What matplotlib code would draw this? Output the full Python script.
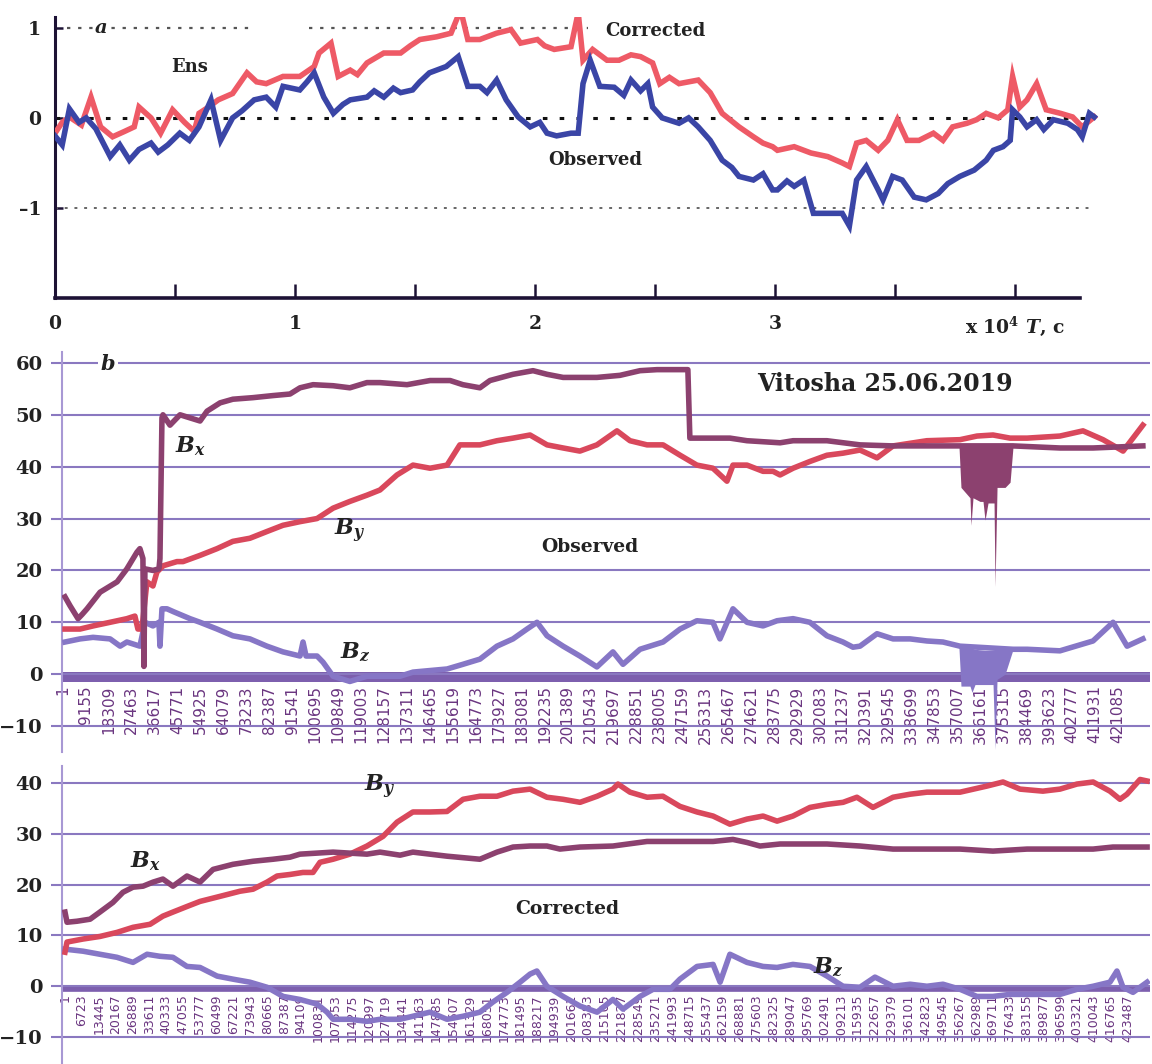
import numpy as np
import matplotlib.pyplot as plt

plt.rcParams['mathtext.fontset'] = 'custom'
plt.rcParams['mathtext.rm'] = 'DejaVu Serif:bold'
plt.rcParams['mathtext.it'] = 'DejaVu Serif:italic:bold'
plt.rcParams['mathtext.bf'] = 'DejaVu Serif:bold'

# ---------------- panel a : ensemble, T in units of 1e4 s ----------------
obs_t = [0.00, 0.03, 0.06, 0.10, 0.13, 0.17, 0.23, 0.27, 0.31, 0.35, 0.40, 0.43, 0.47, 0.52,
         0.56, 0.60, 0.65, 0.69, 0.74, 0.78, 0.83, 0.88, 0.92, 0.95, 1.02, 1.05, 1.08, 1.12,
         1.16, 1.20, 1.23, 1.30, 1.33, 1.37, 1.41, 1.44, 1.49, 1.52, 1.56, 1.63, 1.68, 1.72,
         1.77, 1.80, 1.84, 1.88, 1.93, 1.98, 2.02, 2.05, 2.09, 2.15, 2.18, 2.20, 2.23, 2.27,
         2.33, 2.37, 2.40, 2.44, 2.47, 2.49, 2.53, 2.60, 2.64, 2.68, 2.73, 2.78, 2.82, 2.85,
         2.91, 2.95, 2.99, 3.01, 3.05, 3.08, 3.12, 3.16, 3.22, 3.28, 3.31, 3.34, 3.38, 3.43,
         3.45, 3.49, 3.53, 3.58, 3.63, 3.68, 3.72, 3.77, 3.83, 3.88, 3.91, 3.95, 3.98, 3.99,
         4.02, 4.05, 4.09, 4.12, 4.16, 4.22, 4.26, 4.28, 4.31, 4.33]
obs_v = [-0.20, -0.30, 0.10, -0.05, 0.00, -0.12, -0.43, -0.30, -0.47, -0.35, -0.28, -0.38, -0.30, -0.17,
         -0.25, -0.10, 0.20, -0.25, 0.00, 0.08, 0.20, 0.23, 0.12, 0.35, 0.31, 0.40, 0.50, 0.23,
         0.05, 0.15, 0.20, 0.23, 0.30, 0.23, 0.33, 0.28, 0.31, 0.40, 0.50, 0.57, 0.68, 0.35,
         0.35, 0.28, 0.42, 0.20, 0.01, -0.10, -0.05, -0.17, -0.20, -0.17, -0.17, 0.38, 0.64, 0.35,
         0.34, 0.25, 0.42, 0.30, 0.38, 0.12, 0.00, -0.06, 0.00, -0.10, -0.25, -0.47, -0.55, -0.65,
         -0.69, -0.62, -0.80, -0.80, -0.70, -0.76, -0.69, -1.06, -1.06, -1.06, -1.20, -0.69, -0.54, -0.80,
         -0.91, -0.65, -0.69, -0.88, -0.91, -0.84, -0.73, -0.65, -0.58, -0.47, -0.36, -0.32, -0.25, 0.09,
         0.01, -0.10, -0.02, -0.13, -0.02, -0.06, -0.13, -0.21, 0.05, 0.01]

cor_t = [0.00, 0.03, 0.06, 0.11, 0.15, 0.19, 0.24, 0.29, 0.33, 0.35, 0.40, 0.44, 0.49, 0.54,
         0.58, 0.60, 0.64, 0.68, 0.74, 0.80, 0.84, 0.88, 0.95, 1.02, 1.08, 1.10, 1.15, 1.18,
         1.23, 1.26, 1.30, 1.37, 1.44, 1.48, 1.52, 1.59, 1.65, 1.69, 1.72, 1.77, 1.84, 1.90,
         1.94, 2.01, 2.04, 2.08, 2.15, 2.18, 2.20, 2.24, 2.30, 2.35, 2.40, 2.44, 2.49, 2.52,
         2.56, 2.60, 2.68, 2.73, 2.78, 2.85, 2.91, 2.95, 2.99, 3.01, 3.08, 3.15, 3.22, 3.28,
         3.31, 3.34, 3.38, 3.43, 3.47, 3.51, 3.55, 3.60, 3.66, 3.70, 3.74, 3.80, 3.84, 3.88,
         3.93, 3.97, 3.99, 4.02, 4.05, 4.09, 4.13, 4.19, 4.24, 4.28, 4.33]
cor_v = [-0.17, -0.05, 0.01, -0.08, 0.23, -0.10, -0.21, -0.15, -0.10, 0.12, 0.00, -0.17, 0.09, -0.05,
         -0.15, 0.05, 0.12, 0.20, 0.27, 0.50, 0.40, 0.38, 0.46, 0.46, 0.57, 0.72, 0.83, 0.46,
         0.53, 0.48, 0.61, 0.72, 0.72, 0.80, 0.87, 0.90, 0.94, 1.20, 0.87, 0.87, 0.94, 0.98,
         0.83, 0.87, 0.80, 0.76, 0.79, 1.17, 0.64, 0.76, 0.64, 0.64, 0.70, 0.68, 0.61, 0.38,
         0.45, 0.38, 0.42, 0.28, 0.05, -0.10, -0.21, -0.28, -0.32, -0.36, -0.32, -0.39, -0.43, -0.50,
         -0.54, -0.28, -0.25, -0.36, -0.25, -0.02, -0.25, -0.25, -0.17, -0.25, -0.10, -0.06, -0.02, 0.05,
         0.00, 0.09, 0.46, 0.12, 0.20, 0.38, 0.09, 0.05, 0.01, -0.10, 0.01]

a_xlabels = ['0', '1', '2', '3', 'x 10$^4$ $T$, c']

# ---------------- panel b : observed (x in thousands of samples) ----------------
bx_obs_t = [0.8, 2.8, 6.0, 7.6, 9.6, 14.8, 21.6, 25.5, 29.5, 30.7, 31.9, 32.3, 32.7, 35.9,
            38.3, 38.7, 39.5, 39.9, 42.7, 46.7, 50.7, 54.7, 57.5, 62.7, 67.8, 75.8, 83.8, 90.6,
            94.6, 99.8, 107.8, 114.5, 121.3, 126.5, 137.3, 146.5, 154.5, 159.6, 166.4, 170.4, 179.6, 187.6,
            193.2, 199.6, 213.1, 222.3, 230.3, 237.1, 246.3, 249.4, 250.2, 254.2, 266.2, 273.0, 286.2, 291.4,
            304.9, 318.1, 331.3, 344.8, 357.6, 379.2, 397.9, 411.1, 431.0]
bx_obs_v = [14.9, 13.2, 10.7, 11.5, 12.6, 15.8, 17.8, 20.3, 23.5, 24.2, 22.3, 1.5, 20.3, 20.0,
            20.3, 22.3, 49.4, 50.0, 48.0, 50.0, 49.4, 48.8, 50.7, 52.3, 53.0, 53.3, 53.7, 54.0,
            55.2, 55.8, 55.6, 55.2, 56.2, 56.2, 55.8, 56.6, 56.6, 55.8, 55.2, 56.6, 57.8, 58.5,
            57.8, 57.2, 57.2, 57.6, 58.5, 58.7, 58.7, 58.7, 45.5, 45.5, 45.5, 45.0, 44.6, 45.0,
            45.0, 44.2, 44.0, 44.0, 44.0, 44.0, 43.6, 43.6, 44.0]

# dense burst of Bx near sample 360000 (lower envelope)
bx_burst_t = [357.6, 358.4, 362.0, 362.4, 363.2, 366.0, 367.2, 368.0, 369.2, 371.6, 372.0, 372.8,
              376.0, 378.0, 379.2]
bx_burst_lo = [44.0, 36.0, 34.0, 28.7, 34.0, 33.3, 33.3, 29.7, 33.0, 33.0, 16.9, 36.0,
               36.0, 37.0, 44.0]
bx_burst_hi = [44.5, 44.5, 44.5, 44.5, 44.5, 44.5, 44.5, 44.5, 44.5, 44.5, 44.5, 44.5,
               44.5, 44.5, 44.5]

by_obs_t = [0.8, 6.8, 12.0, 18.8, 25.5, 28.7, 29.9, 31.5, 33.5, 35.9, 37.5, 40.0, 45.5, 47.9,
            54.7, 61.5, 67.8, 74.6, 81.4, 87.8, 94.6, 101.4, 107.8, 114.5, 121.3, 126.5, 133.3, 139.7,
            146.5, 153.3, 158.4, 166.4, 173.2, 179.6, 186.4, 193.2, 199.6, 206.3, 213.1, 221.1, 226.3, 233.1,
            239.5, 246.3, 253.0, 259.4, 265.0, 267.4, 273.0, 279.4, 283.4, 286.2, 291.4, 298.1, 304.9, 311.3,
            318.1, 324.9, 331.3, 344.8, 358.0, 364.8, 371.2, 378.0, 384.8, 397.9, 407.1, 415.1, 423.1, 431.0]
by_obs_v = [8.7, 8.7, 9.3, 10.0, 10.7, 11.2, 8.7, 8.7, 17.8, 17.0, 19.7, 20.9, 21.7, 21.7,
            22.9, 24.2, 25.6, 26.2, 27.5, 28.7, 29.4, 30.0, 32.0, 33.3, 34.5, 35.5, 38.4, 40.3,
            39.7, 40.3, 44.2, 44.2, 45.0, 45.5, 46.1, 44.2, 43.6, 43.0, 44.2, 46.9, 45.0, 44.2,
            44.2, 42.2, 40.3, 39.7, 37.2, 40.3, 40.3, 39.1, 39.1, 38.4, 39.7, 41.0, 42.2, 42.6,
            43.2, 41.7, 44.0, 45.0, 45.2, 45.9, 46.1, 45.5, 45.5, 45.9, 46.9, 45.2, 43.0, 48.0]

bz_obs_t = [0.8, 6.8, 12.0, 18.8, 22.8, 25.5, 30.7, 32.7, 35.9, 38.3, 38.7, 39.5, 41.5, 44.3,
            50.7, 54.7, 61.5, 67.8, 74.6, 81.4, 87.8, 94.6, 95.8, 97.0, 101.4, 103.8, 107.8, 114.5,
            121.3, 134.5, 139.7, 153.3, 159.6, 166.4, 173.2, 179.6, 185.2, 189.2, 193.2, 199.6, 206.3, 213.1,
            219.5, 223.5, 230.3, 239.5, 246.3, 253.0, 259.4, 262.2, 267.4, 273.0, 279.4, 285.0, 291.4, 298.1,
            304.9, 311.3, 315.3, 318.1, 324.9, 331.3, 338.1, 344.8, 351.2, 358.0, 379.2, 384.8, 397.9, 411.1,
            419.1, 424.7, 431.0]
bz_obs_v = [6.2, 6.8, 7.1, 6.8, 5.4, 6.2, 5.4, 10.0, 9.3, 10.0, 5.4, 12.6, 12.6, 12.0,
            10.7, 10.0, 8.7, 7.4, 6.8, 5.4, 4.3, 3.5, 6.2, 3.5, 3.5, 2.3, -0.4, -1.4,
            -0.4, -0.4, 0.4, 1.0, 1.9, 2.9, 5.4, 6.8, 8.7, 10.0, 7.4, 5.4, 3.5, 1.4,
            4.3, 1.9, 4.8, 6.2, 8.7, 10.3, 10.0, 6.8, 12.6, 10.0, 9.3, 10.3, 10.7, 10.0,
            7.4, 6.2, 5.2, 5.4, 7.8, 6.8, 6.8, 6.4, 6.2, 5.4, 4.8, 4.8, 4.5, 6.4,
            10.0, 5.4, 6.8]

bz_burst_t = [357.6, 358.4, 362.0, 362.8, 364.0, 368.0, 371.2, 372.0, 372.8, 376.0, 379.2]
bz_burst_lo = [5.0, -2.3, -2.3, -3.5, -2.0, -2.0, -2.0, -14.5, -1.0, 0.0, 4.8]
bz_burst_hi = [5.4, 5.2, 5.0, 5.0, 4.8, 4.6, 4.6, 4.6, 4.6, 4.8, 4.8]

# ---------------- panel c : corrected ----------------
bx_cor_t = [0.0, 0.8, 4.8, 10.0, 13.9, 19.1, 23.1, 27.1, 31.1, 35.1, 39.0, 43.0, 48.6, 53.8,
            59.0, 66.9, 74.9, 82.9, 89.6, 93.6, 106.8, 120.3, 125.5, 133.5, 138.6, 152.2, 165.3, 172.1,
            178.5, 185.3, 192.0, 197.2, 205.2, 218.3, 231.9, 245.0, 258.2, 266.1, 271.7, 276.9, 284.9, 290.0,
            303.6, 316.7, 329.9, 343.4, 356.6, 369.7, 383.3, 396.4, 409.6, 417.5, 431.1]
bx_cor_v = [14.6, 12.6, 12.8, 13.2, 14.6, 16.5, 18.5, 19.5, 19.7, 20.5, 21.1, 19.7, 21.7, 20.5,
            23.0, 24.0, 24.6, 25.0, 25.4, 26.0, 26.4, 26.0, 26.4, 25.8, 26.4, 25.6, 25.0, 26.4,
            27.4, 27.6, 27.6, 27.0, 27.4, 27.6, 28.5, 28.5, 28.5, 28.9, 28.3, 27.6, 28.0, 28.0,
            28.0, 27.6, 27.0, 27.0, 27.0, 26.6, 27.0, 27.0, 27.0, 27.4, 27.4]

by_cor_t = [0.0, 0.8, 7.2, 13.9, 20.7, 27.1, 33.9, 39.0, 43.0, 48.6, 53.8, 61.8, 69.7, 74.9,
            80.5, 84.5, 89.6, 94.8, 98.8, 101.6, 106.8, 113.5, 120.3, 126.7, 132.3, 138.6, 145.4, 152.2,
            158.6, 165.3, 172.1, 178.5, 185.3, 192.0, 198.4, 205.2, 212.0, 218.3, 220.3, 225.1, 231.9, 238.2,
            245.0, 251.8, 258.2, 264.9, 271.7, 278.1, 283.7, 290.0, 296.8, 303.6, 310.0, 315.5, 321.9, 329.9,
            336.7, 343.4, 356.6, 367.3, 373.7, 380.5, 389.6, 396.4, 403.2, 409.6, 416.3, 420.3, 423.1, 428.3,
            431.1]
by_cor_v = [6.7, 8.7, 9.3, 9.8, 10.6, 11.6, 12.2, 13.8, 14.6, 15.7, 16.7, 17.7, 18.7, 19.1,
            20.5, 21.7, 22.0, 22.4, 22.4, 24.4, 25.0, 26.0, 27.6, 29.5, 32.3, 34.3, 34.3, 34.4,
            36.8, 37.4, 37.4, 38.4, 38.8, 37.2, 36.8, 36.2, 37.4, 38.8, 39.8, 38.2, 37.2, 37.4,
            35.4, 34.3, 33.5, 31.9, 32.9, 33.5, 32.5, 33.5, 35.2, 35.8, 36.2, 37.2, 35.2, 37.2,
            37.8, 38.2, 38.2, 39.4, 40.2, 38.8, 38.4, 38.8, 39.8, 40.2, 38.4, 36.8, 37.8, 40.7,
            40.4]

bz_cor_t = [0.0, 7.2, 13.9, 20.7, 27.1, 32.7, 37.8, 43.0, 48.6, 53.8, 60.6, 66.9, 73.7, 80.5,
            86.9, 93.6, 100.4, 104.4, 106.8, 113.5, 120.3, 125.5, 133.5, 138.6, 145.4, 152.2, 158.6, 165.3,
            170.5, 176.1, 181.3, 185.3, 188.0, 192.0, 198.4, 205.2, 212.0, 218.3, 222.3, 229.1, 234.3, 241.0,
            245.0, 251.8, 258.2, 261.0, 264.9, 271.7, 278.1, 283.7, 290.0, 296.8, 303.6, 310.0, 316.7, 322.7,
            329.9, 336.7, 343.4, 349.8, 356.6, 363.3, 369.7, 376.5, 389.6, 396.4, 403.2, 409.6, 416.3, 419.1,
            421.5, 425.5, 431.1]
bz_cor_v = [7.3, 6.9, 6.3, 5.7, 4.7, 6.3, 5.9, 5.7, 3.9, 3.7, 2.0, 1.4, 0.8, -0.2,
            -2.0, -2.6, -3.5, -5.1, -6.5, -6.5, -6.9, -6.5, -6.5, -5.9, -5.1, -6.5, -5.9, -5.1,
            -3.1, -1.2, 0.8, 2.4, 3.0, 0.0, -2.0, -3.9, -5.1, -2.6, -4.5, -2.0, -0.6, -0.6,
            1.4, 3.9, 4.3, 0.8, 6.3, 4.7, 3.9, 3.7, 4.3, 3.9, 2.0, 0.0, -0.2, 1.8,
            0.0, 0.4, 0.0, 0.4, -0.6, -2.0, -2.0, -1.6, -1.6, -1.6, -0.6, 0.0, 0.8, 3.0,
            -0.2, -1.2, 0.8]

b_ticklabels = np.arange(1, 421086, 9154)
c_ticklabels = np.arange(1, 423488, 6722)
b_yticks = [-10, 0, 10, 20, 30, 40, 50, 60]
c_yticks = [-10, 0, 10, 20, 30, 40]

# colours
RED_A, BLUE_A = '#ee5a66', '#3a45a6'
C_BX, C_BY, C_BZ = '#8c416f', '#d9485c', '#8676c6'
GRID = '#8a78c0'
BAND = '#7d5fae'
TICKC = '#6a3580'
SERIF = 'DejaVu Serif'


def k(v):
    return np.asarray(v) * 1000.0


fig = plt.figure(figsize=(11.52, 10.64), dpi=100)

# ============ panel a ============
ax = fig.add_axes([55 / 1152, 766 / 1064, 1044 / 1152, 281 / 1064])
ax.set_xlim(0, 4.35)
ax.set_ylim(-2, 1.12)
ax.hlines(1, 0.05, 0.82, colors='#555555', linestyles=(0, (1.5, 3.5)), lw=1.6)
ax.hlines(1, 1.06, 2.22, colors='#555555', linestyles=(0, (1.5, 3.5)), lw=1.6)
ax.hlines(0, 0, 4.33, colors='#111111', linestyles=(0, (1.5, 4)), lw=2.2)
ax.hlines(-1, 0, 4.33, colors='#666666', linestyles=(0, (1.5, 3.5)), lw=1.4)
ax.plot(cor_t, cor_v, color=RED_A, lw=4.0, zorder=3, solid_joinstyle='miter')
ax.plot(obs_t, obs_v, color=BLUE_A, lw=4.0, zorder=4, solid_joinstyle='miter')
for s in ['top', 'right']:
    ax.spines[s].set_visible(False)
ax.spines['left'].set_linewidth(2.2)
ax.spines['bottom'].set_linewidth(2.6)
ax.spines['left'].set_color('#1d1235')
ax.spines['bottom'].set_color('#1d1235')
ax.spines['bottom'].set_bounds(0, 4.27)
ax.set_xticks([0, 1, 2, 3, 4])
ax.set_xticklabels(a_xlabels)
ax.set_xticks([0.5, 1.5, 2.5, 3.5], minor=True)
ax.tick_params(axis='x', which='both', direction='in', length=10, width=1.8,
               color='#1d1235', pad=12)
ax.set_yticks([-1, 0, 1])
ax.set_yticklabels(['\u20131', '0', '1'])
ax.tick_params(axis='y', direction='in', length=6, width=1.8, color='#1d1235', pad=10)
for lab in ax.get_xticklabels() + ax.get_yticklabels():
    lab.set_fontfamily(SERIF)
    lab.set_fontweight('bold')
    lab.set_fontsize(13.5)
    lab.set_color('#222222')
ax.text(0.19, 1.0, 'a', fontsize=14, fontfamily=SERIF, style='italic', fontweight='bold',
        ha='center', va='center', color='#222222',
        bbox=dict(facecolor='white', edgecolor='none', pad=1))
ax.text(0.56, 0.56, 'Ens', fontsize=13, fontfamily=SERIF, fontweight='bold',
        ha='center', va='center', color='#222222')
ax.text(2.5, 0.96, 'Corrected', fontsize=13, fontfamily=SERIF, fontweight='bold',
        ha='center', va='center', color='#222222')
ax.text(2.25, -0.47, 'Observed', fontsize=13, fontfamily=SERIF, fontweight='bold',
        ha='center', va='center', color='#222222')


def style_b(ax, yticks, xlabels, label_y, band_y, band_lw, lab_size):
    ax.set_yticks(yticks)
    ax.set_yticklabels([('\u2212' + str(-v)) if v < 0 else str(v) for v in yticks])
    ax.grid(axis='y', color=GRID, lw=1.5, zorder=0)
    ax.axhline(band_y, color=BAND, lw=band_lw, zorder=1, solid_capstyle='butt')
    for s in ['top', 'right']:
        ax.spines[s].set_visible(False)
    ax.spines['left'].set_color('#a898d4')
    ax.spines['left'].set_linewidth(1.5)
    ax.spines['bottom'].set_position(('data', label_y))
    ax.spines['bottom'].set_visible(False)
    ax.set_xticks(xlabels)
    ax.set_xticklabels([str(v) for v in xlabels], rotation=90, fontsize=lab_size,
                       color=TICKC, va='top')
    ax.tick_params(axis='x', length=0, pad=1)
    ax.tick_params(axis='y', length=8, width=1.5, color=GRID, pad=6)
    for lab in ax.get_yticklabels():
        lab.set_fontfamily(SERIF)
        lab.set_fontweight('bold')
        lab.set_fontsize(14)
        lab.set_color('#222222')


LW = 4.0

# ============ panel b ============
ax = fig.add_axes([62 / 1152, 312 / 1064, 1088 / 1152, 400 / 1064])
ax.set_xlim(-398, 433847)
ax.set_ylim(-15.0, 62.1)
style_b(ax, b_yticks, b_ticklabels, -1.9, -0.55, 7.2, 11)
ax.fill_between(k(bz_burst_t), bz_burst_lo, bz_burst_hi, color=C_BZ, lw=0, zorder=2)
ax.plot(k(bz_obs_t), bz_obs_v, color=C_BZ, lw=LW, zorder=3)
ax.plot(k(by_obs_t), by_obs_v, color=C_BY, lw=LW, zorder=3)
ax.fill_between(k(bx_burst_t), bx_burst_lo, bx_burst_hi, color=C_BX, lw=0, zorder=4)
ax.plot(k(bx_obs_t), bx_obs_v, color=C_BX, lw=LW, zorder=4)
ax.text(17960, 59.8, 'b', fontsize=15, fontfamily=SERIF, style='italic', fontweight='bold',
        ha='center', va='center', color='#222222',
        bbox=dict(facecolor='white', edgecolor='none', pad=2))
ax.text(328000, 55.9, 'Vitosha 25.06.2019', fontsize=17, fontfamily=SERIF, fontweight='bold',
        ha='center', va='center', color='#222222')
ax.text(210300, 24.5, 'Observed', fontsize=13.5, fontfamily=SERIF, fontweight='bold',
        ha='center', va='center', color='#222222')
ax.text(50700, 44.0, '$B_x$', fontsize=16, ha='center', va='center', color='#222222')
ax.text(114500, 27.6, '$B_y$', fontsize=16, ha='center', va='center', color='#222222')
ax.text(116500, 4.4, '$B_z$', fontsize=16, ha='center', va='center', color='#222222')

# ============ panel c ============
ax = fig.add_axes([62 / 1152, 0, 1088 / 1152, 298 / 1064])
ax.set_xlim(-1194, 432270)
ax.set_ylim(-15.3, 43.35)
style_b(ax, c_yticks, c_ticklabels, -1.3, -0.4, 4.8, 9)
ax.plot(k(bz_cor_t), bz_cor_v, color=C_BZ, lw=LW, zorder=3)
ax.plot(k(by_cor_t), by_cor_v, color=C_BY, lw=LW, zorder=3)
ax.plot(k(bx_cor_t), bx_cor_v, color=C_BX, lw=LW, zorder=4)
ax.text(200000, 15.2, 'Corrected', fontsize=13.5, fontfamily=SERIF, fontweight='bold',
        ha='center', va='center', color='#222222')
ax.text(31900, 24.6, '$B_x$', fontsize=16, ha='center', va='center', color='#222222')
ax.text(125500, 39.2, '$B_y$', fontsize=16, ha='center', va='center', color='#222222')
ax.text(304000, 3.9, '$B_z$', fontsize=16, ha='center', va='center', color='#222222')

fig.savefig('out.png', dpi=100)
